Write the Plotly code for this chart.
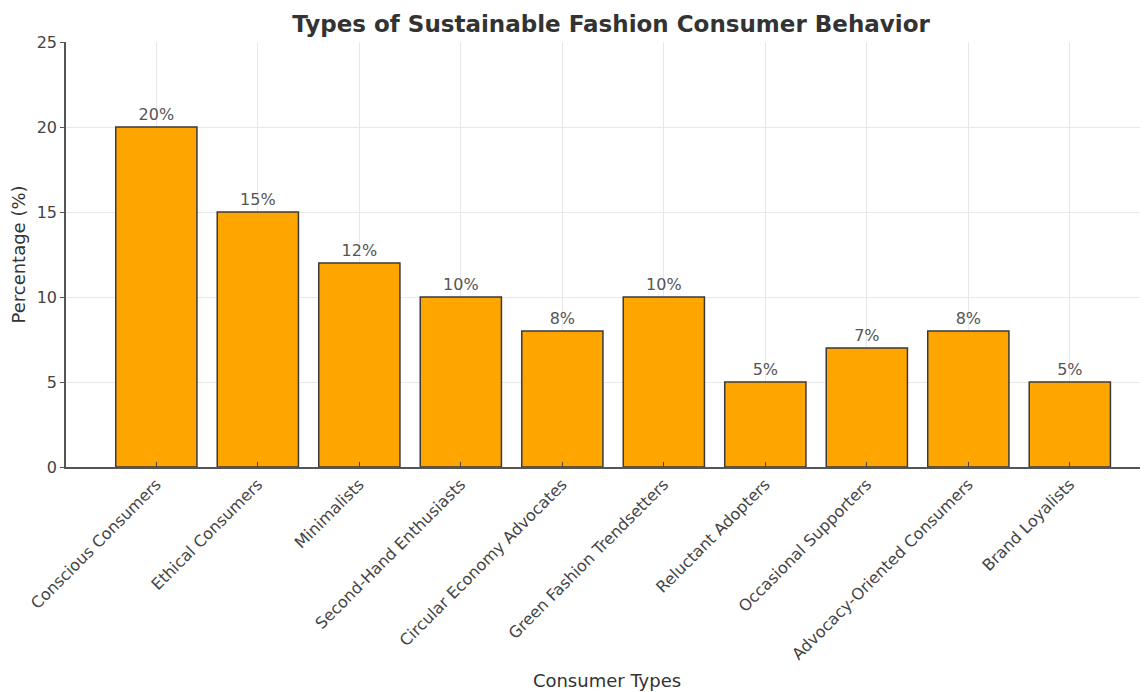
import plotly.graph_objects as go

categories = ["Conscious Consumers", "Ethical Consumers", "Minimalists",
              "Second-Hand Enthusiasts", "Circular Economy Advocates",
              "Green Fashion Trendsetters", "Reluctant Adopters",
              "Occasional Supporters", "Advocacy-Oriented Consumers",
              "Brand Loyalists"]
percentages = [20, 15, 12, 10, 8, 10, 5, 7, 8, 5]
y_ticks = [0, 5, 10, 15, 20, 25]

labels = [f"{v}%" for v in percentages]

fig = go.Figure(go.Bar(
    x=list(range(len(categories))),
    y=percentages,
    width=0.8,
    marker=dict(color="#FFA500", line=dict(color="#3a3a3a", width=1.5)),
    text=labels,
    textposition="outside",
    textfont=dict(family="DejaVu Sans", size=16, color="#555555"),
    cliponaxis=False,
))

# the page body has an 8px margin, so the figure is sized to end at the window edge
fig.update_layout(
    width=1140, height=684,
    margin=dict(l=58, r=0, t=34, b=225, autoexpand=False),
    paper_bgcolor="white", plot_bgcolor="white",
    font=dict(family="DejaVu Sans", color="#333333"),
    title=dict(text="<b>Types of Sustainable Fashion Consumer Behavior</b>",
               x=0.529, xanchor="center", y=0.977, yanchor="middle",
               font=dict(family="DejaVu Sans", size=23, color="#333333")),
    showlegend=False,
)

fig.update_xaxes(
    range=[-0.89, 9.77],
    automargin=False,
    tickmode="array",
    tickvals=list(range(len(categories))),
    ticktext=categories,
    tickangle=-45,
    tickfont=dict(family="DejaVu Sans", size=16, color="#444444"),
    showgrid=True, gridcolor="#e8e8e8", gridwidth=1,
    showline=True, linecolor="#555555", linewidth=1.5,
    ticks="inside", ticklen=5, tickcolor="#444444",
    title=dict(text="Consumer Types", font=dict(family="DejaVu Sans", size=18, color="#333333"),
               standoff=12),
    zeroline=False,
)

fig.update_yaxes(
    range=[0, 25],
    automargin=False,
    tickmode="array",
    tickvals=y_ticks,
    tickfont=dict(family="DejaVu Sans", size=16, color="#444444"),
    showgrid=True, gridcolor="#e8e8e8", gridwidth=1,
    showline=True, linecolor="#555555", linewidth=1.5,
    ticks="outside", ticklen=4, tickcolor="#555555",
    title=dict(text="Percentage (%)", font=dict(family="DejaVu Sans", size=18, color="#333333"),
               standoff=8),
    zeroline=False,
)

fig.write_html("out.html")
